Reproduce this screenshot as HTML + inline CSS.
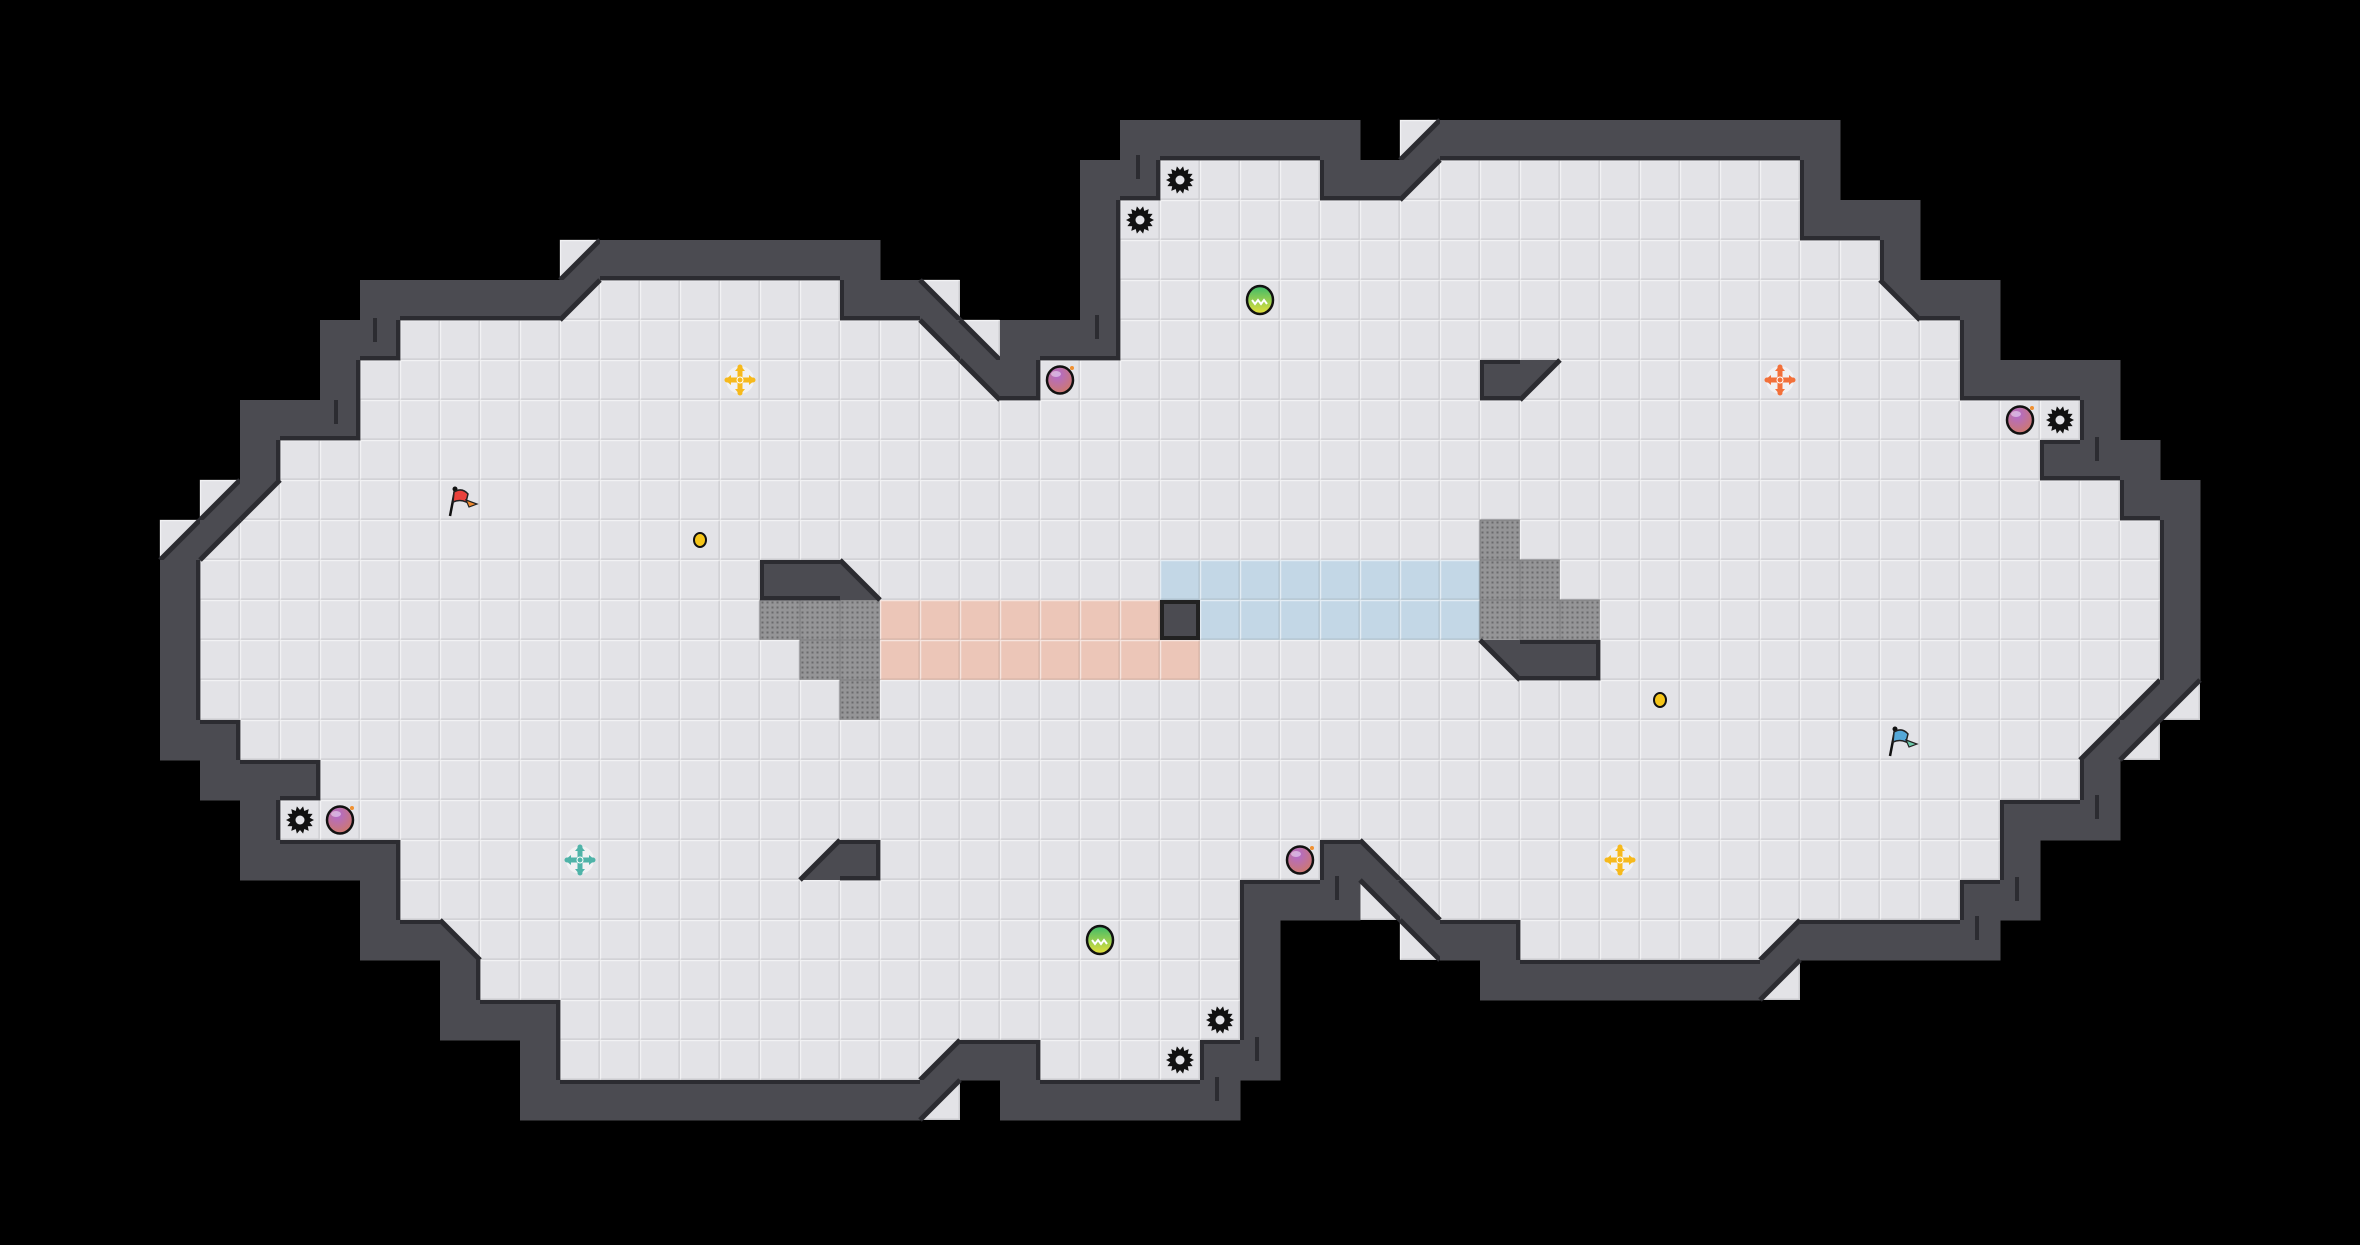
<!DOCTYPE html>
<html><head><meta charset="utf-8">
<style>
html,body{margin:0;padding:0;background:#000;width:2360px;height:1240px;overflow:hidden}
#m{position:absolute;left:0;top:0}
</style></head>
<body>
<div id="m"></div>
<script>
var T=40,C=59,R=31;
var g=[];for(var r=0;r<R;r++){g.push([]);for(var c=0;c<C;c++)g[r].push('.');}
function s(r,a,b,ch){for(var c=a;c<=b;c++)g[r][c]=ch;}
s(3,28,33,'W');s(3,35,35,'d');s(3,36,45,'W');
s(4,27,28,'W');s(4,29,32,'F');s(4,33,34,'W');s(4,35,35,'a');s(4,36,44,'F');s(4,45,45,'W');
s(5,27,27,'W');s(5,28,44,'F');s(5,45,47,'W');
s(6,14,14,'d');s(6,15,21,'W');s(6,27,27,'W');s(6,28,46,'F');s(6,47,47,'W');
s(7,9,13,'W');s(7,14,14,'a');s(7,15,20,'F');s(7,21,22,'W');s(7,23,23,'c');s(7,27,27,'W');s(7,28,46,'F');s(7,47,47,'b');s(7,48,49,'W');
s(8,8,9,'W');s(8,10,22,'F');s(8,23,23,'b');s(8,24,24,'c');s(8,25,27,'W');s(8,28,48,'F');s(8,49,49,'W');
s(9,8,8,'W');s(9,9,23,'F');s(9,24,24,'b');s(9,25,25,'W');s(9,26,48,'F');s(9,49,52,'W');s(9,37,37,'W');s(9,38,38,'a');
s(10,6,8,'W');s(10,9,51,'F');s(10,52,52,'W');
s(11,6,6,'W');s(11,7,50,'F');s(11,51,53,'W');
s(12,5,5,'d');s(12,6,6,'a');s(12,7,52,'F');s(12,53,54,'W');
s(13,4,4,'d');s(13,5,5,'a');s(13,6,53,'F');s(13,54,54,'W');
for(var rr=14;rr<=16;rr++){s(rr,4,4,'W');s(rr,5,53,'F');s(rr,54,54,'W');}
s(17,4,4,'W');s(17,5,52,'F');s(17,53,53,'d');s(17,54,54,'a');
s(18,4,5,'W');s(18,6,51,'F');s(18,52,52,'d');s(18,53,53,'a');
s(19,5,7,'W');s(19,8,51,'F');s(19,52,52,'W');
s(20,6,6,'W');s(20,7,49,'F');s(20,50,52,'W');
s(21,6,9,'W');s(21,10,32,'F');s(21,33,33,'W');s(21,34,34,'c');s(21,35,49,'F');s(21,50,50,'W');
s(22,9,9,'W');s(22,10,30,'F');s(22,31,33,'W');s(22,34,34,'b');s(22,35,35,'c');s(22,36,48,'F');s(22,49,50,'W');
s(23,9,10,'W');s(23,11,11,'c');s(23,12,30,'F');s(23,31,31,'W');s(23,35,35,'b');s(23,36,37,'W');s(23,38,43,'F');s(23,44,44,'d');s(23,45,49,'W');
s(24,11,11,'W');s(24,12,30,'F');s(24,31,31,'W');s(24,37,43,'W');s(24,44,44,'a');
s(25,11,13,'W');s(25,14,30,'F');s(25,31,31,'W');
s(26,13,13,'W');s(26,14,22,'F');s(26,23,23,'d');s(26,24,25,'W');s(26,26,29,'F');s(26,30,31,'W');
s(27,13,22,'W');s(27,23,23,'a');s(27,25,30,'W');
s(14,19,20,'W');s(14,21,21,'c');s(14,29,36,'B');s(14,37,38,'G');s(13,37,37,'G');
s(15,19,21,'G');s(15,22,28,'R');s(15,29,29,'X');s(15,30,36,'B');s(15,37,39,'G');
s(16,20,21,'G');s(16,22,29,'R');s(16,37,37,'b');s(16,38,39,'W');
s(17,21,21,'G');
s(21,20,20,'d');s(21,21,21,'W');

var WALL='#4b4b51',EDGE='#2c2c31',FL='#e3e3e7';
var o=[];
o.push('<svg xmlns="http://www.w3.org/2000/svg" width="2360" height="1240" viewBox="0 0 2360 1240">');
o.push('<defs><pattern id="gp" width="5" height="5" patternUnits="userSpaceOnUse"><rect width="5" height="5" fill="#959597"/><rect x="1.5" y="1.5" width="2" height="2" fill="#6a6a6c"/></pattern>'+
'<radialGradient id="bomb" cx="0.4" cy="0.3" r="0.8"><stop offset="0" stop-color="#b06ad0"/><stop offset="1" stop-color="#d27a60"/></radialGradient>'+
'<linearGradient id="jj" x1="0" y1="0" x2="0" y2="1"><stop offset="0" stop-color="#3dbb6a"/><stop offset="1" stop-color="#e8e03a"/></linearGradient></defs>');
o.push('<rect width="2360" height="1240" fill="#000"/>');
function floorTile(x,y,fill){
  o.push('<rect x="'+x+'" y="'+y+'" width="40" height="40" fill="'+fill+'"/>');
  o.push('<path d="M'+(x+0.5)+' '+(y+39.5)+'V'+(y+0.5)+'H'+(x+39.5)+'" stroke="rgba(255,255,255,0.55)" stroke-width="1.5" fill="none"/>');
  o.push('<path d="M'+(x+0.5)+' '+(y+39.3)+'H'+(x+39.3)+'V'+(y+0.5)+'" stroke="rgba(0,0,0,0.10)" stroke-width="1.6" fill="none"/>');
}
for(var r=0;r<R;r++)for(var c=0;c<C;c++){
  var ch=g[r][c],x=c*T,y=r*T;
  if(ch=='F'||'abcd'.indexOf(ch)>=0)floorTile(x,y,FL);
  else if(ch=='R')floorTile(x,y,'#ecc6b8');
  else if(ch=='B')floorTile(x,y,'#c3d7e6');
  else if(ch=='G'){o.push('<rect x="'+x+'" y="'+y+'" width="40" height="40" fill="url(#gp)" stroke="#7a7a7c" stroke-width="1"/>');}
}
for(var r=0;r<R;r++)for(var c=0;c<C;c++){
  var ch=g[r][c],x=c*T,y=r*T;
  if(ch=='W'){
    o.push('<rect x="'+x+'" y="'+y+'" width="40.5" height="40.5" fill="'+WALL+'"/>');
  } else if(ch=='X'){
    o.push('<rect x="'+x+'" y="'+y+'" width="40" height="40" fill="#222"/><rect x="'+(x+4)+'" y="'+(y+4)+'" width="32" height="32" fill="'+WALL+'"/>');
  } else if('abcd'.indexOf(ch)>=0){
    var TL=[x,y],TR=[x+40,y],BL=[x,y+40],BR=[x+40,y+40],p,e;
    if(ch=='a'){p=[TL,TR,BL];e=[TR,BL];}
    if(ch=='b'){p=[TL,TR,BR];e=[TL,BR];}
    if(ch=='c'){p=[TL,BL,BR];e=[TL,BR];}
    if(ch=='d'){p=[TR,BR,BL];e=[TR,BL];}
    o.push('<polygon points="'+p.map(function(q){return q.join(',')}).join(' ')+'" fill="'+WALL+'"/>');
    o.push('<line x1="'+e[0][0]+'" y1="'+e[0][1]+'" x2="'+e[1][0]+'" y2="'+e[1][1]+'" stroke="'+EDGE+'" stroke-width="5"/>');
  }
}
function fl(r,c){if(r<0||r>=R||c<0||c>=C)return false;var ch=g[r][c];return ch=='F'||ch=='R'||ch=='B'||ch=='G';}
for(var r=0;r<R;r++)for(var c=0;c<C;c++){
  var ch=g[r][c],x=c*T,y=r*T;
  if(ch!='W')continue;
  if(fl(r-1,c))o.push('<rect x="'+x+'" y="'+y+'" width="40" height="4" fill="'+EDGE+'"/>');
  if(fl(r+1,c))o.push('<rect x="'+x+'" y="'+(y+36)+'" width="40" height="4" fill="'+EDGE+'"/>');
  if(fl(r,c-1))o.push('<rect x="'+x+'" y="'+y+'" width="4" height="40" fill="'+EDGE+'"/>');
  if(fl(r,c+1))o.push('<rect x="'+(x+36)+'" y="'+y+'" width="4" height="40" fill="'+EDGE+'"/>');
}
function cx(c){return c*T+20;}
function spike(c,r){var X=cx(c),Y=cx(r),pts=[];for(var i=0;i<28;i++){var a=i*Math.PI/14,rad=i%2?10:14;pts.push((X+rad*Math.cos(a)).toFixed(1)+','+(Y+rad*Math.sin(a)).toFixed(1));}
 o.push('<polygon points="'+pts.join(' ')+'" fill="#111"/><circle cx="'+X+'" cy="'+Y+'" r="4.5" fill="#e3e3e7"/>');}
function bomb(c,r){var X=cx(c),Y=cx(r);o.push('<ellipse cx="'+X+'" cy="'+Y+'" rx="13" ry="13.5" fill="url(#bomb)" stroke="#111" stroke-width="2.5"/><ellipse cx="'+(X-4)+'" cy="'+(Y-6)+'" rx="5" ry="3" fill="rgba(255,255,255,0.45)"/><circle cx="'+(X+12)+'" cy="'+(Y-12)+'" r="2" fill="#f09030"/>');}
function jj(c,r){var X=cx(c),Y=cx(r);o.push('<ellipse cx="'+X+'" cy="'+Y+'" rx="13" ry="14" fill="url(#jj)" stroke="#111" stroke-width="2.5"/><path d="M'+(X-8)+' '+(Y)+'l3 4l3-4l3 4l3-4l3 4" stroke="#fff" stroke-width="2" fill="none"/>');}
function pu(c,r,col){var X=cx(c),Y=cx(r);o.push('<circle cx="'+X+'" cy="'+Y+'" r="14" fill="rgba(255,255,255,0.5)"/><path d="M'+X+' '+(Y-13)+'V'+(Y+13)+'M'+(X-13)+' '+Y+'H'+(X+13)+'" stroke="'+col+'" stroke-width="5" stroke-linecap="round"/>'+
 '<path d="M'+(X-5)+' '+(Y-9)+'L'+X+' '+(Y-15)+'L'+(X+5)+' '+(Y-9)+'ZM'+(X-5)+' '+(Y+9)+'L'+X+' '+(Y+15)+'L'+(X+5)+' '+(Y+9)+'ZM'+(X-9)+' '+(Y-5)+'L'+(X-15)+' '+Y+'L'+(X-9)+' '+(Y+5)+'ZM'+(X+9)+' '+(Y-5)+'L'+(X+15)+' '+Y+'L'+(X+9)+' '+(Y+5)+'Z" fill="'+col+'"/><circle cx="'+X+'" cy="'+Y+'" r="3" fill="'+col+'" stroke="#fff" stroke-width="1"/>');}
function flag(c,r,col,col2){var x=c*T,y=r*T;o.push('<line x1="'+(x+10)+'" y1="'+(y+36)+'" x2="'+(x+15)+'" y2="'+(y+10)+'" stroke="#111" stroke-width="2.5"/><circle cx="'+(x+15)+'" cy="'+(y+9)+'" r="2.5" fill="#111"/>'+
 '<path d="M'+(x+14)+' '+(y+12)+'Q'+(x+22)+' '+(y+7)+' '+(x+28)+' '+(y+14)+'L'+(x+26)+' '+(y+22)+'Q'+(x+20)+' '+(y+19)+' '+(x+13)+' '+(y+22)+'Z" fill="'+col+'" stroke="#222" stroke-width="1.5"/>'+
 '<path d="M'+(x+26)+' '+(y+20)+'L'+(x+37)+' '+(y+24)+'L'+(x+29)+' '+(y+27)+'Z" fill="'+col2+'" stroke="#222" stroke-width="1.2"/>');}
function dot(c,r){o.push('<ellipse cx="'+cx(c)+'" cy="'+cx(r)+'" rx="6" ry="7" fill="#f5c518" stroke="#111" stroke-width="2"/>');}
spike(29,4);spike(28,5);spike(51,10);spike(7,20);spike(30,25);spike(29,26);
bomb(26,9);bomb(50,10);bomb(8,20);bomb(32,21);
jj(31,7);jj(27,23);
pu(18,9,'#f6b91c');pu(44,9,'#f2703a');pu(14,21,'#4fb3a8');pu(40,21,'#f6b91c');
flag(11,12,'#e8413c','#f08a30');flag(47,18,'#55a8d8','#6cc8a8');
dot(17,13);dot(41,17);
function mark(x,y){o.push('<rect x="'+x+'" y="'+y+'" width="4" height="24" fill="'+EDGE+'"/>');}
mark(373,318);mark(334,400);mark(1136,155);mark(1095,315);mark(2095,437);mark(2095,795);mark(2015,877);mark(1975,916);mark(1335,876);mark(1255,1037);mark(1215,1077);
o.push('</svg>');
document.getElementById('m').innerHTML=o.join('');
</script>
</body></html>
